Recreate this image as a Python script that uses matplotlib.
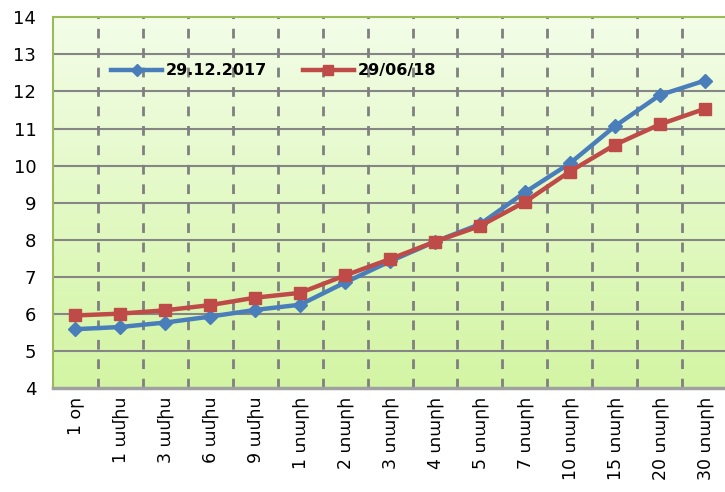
import numpy as np
import matplotlib
matplotlib.use("Agg")
import matplotlib.pyplot as plt
from matplotlib.colors import LinearSegmentedColormap

plt.rcParams['font.family'] = ['DejaVu Sans', 'Noto Sans']

categories = ["1 օր", "1 ամիս", "3 ամիս", "6 ամիս", "9 ամիս", "1 տարի", "2 տարի",
              "3 տարի", "4 տարի", "5 տարի", "7 տարի", "10 տարի", "15 տարի",
              "20 տարի", "30 տարի"]
series_2017 = [5.59, 5.65, 5.77, 5.93, 6.11, 6.25, 6.85, 7.42, 7.95, 8.42, 9.28,
               10.06, 11.06, 11.90, 12.29]
series_2018 = [5.96, 6.01, 6.10, 6.24, 6.44, 6.57, 7.04, 7.48, 7.95, 8.37, 9.02,
               9.84, 10.56, 11.11, 11.53]
label_2017 = "29.12.2017"
label_2018 = "29/06/18"
yticks = list(range(4, 15))

fig = plt.figure(figsize=(7.25, 4.92), dpi=100)
ax = fig.add_axes([0.073, 0.211, 0.93, 0.754])

n = len(categories)
x = np.arange(n)
ax.set_xlim(-0.5, n - 0.5)
ax.set_ylim(4, 14)

# gradient background
cmap = LinearSegmentedColormap.from_list("g", ["#d3f5a3", "#f3fde8"])
grad = np.linspace(0, 1, 256).reshape(-1, 1)
ax.imshow(grad, extent=(-0.5, n - 0.5, 4, 14), origin="lower", aspect="auto",
          cmap=cmap, zorder=0)

# grid
for yv in yticks[1:-1]:
    ax.axhline(yv, color="#868686", lw=1.5, zorder=1)
for xv in np.arange(0.5, n - 0.5, 1.0):
    ax.axvline(xv, color="#808080", lw=2, ls=(0, (3.5, 3.5)), zorder=1)

ax.plot(x, series_2017, color="#4a7ebb", lw=3.2, marker="D", ms=7,
        label=label_2017, zorder=3)
ax.plot(x, series_2018, color="#be4b48", lw=3.2, marker="s", ms=8.5,
        label=label_2018, zorder=4)

ax.set_xticks(x)
ax.set_xticklabels(categories, rotation=90, fontsize=12.5, va="top", ha="center")
ax.set_yticks(yticks)
ax.set_yticklabels([str(v) for v in yticks], fontsize=13)
ax.tick_params(length=0, pad=6)
ax.tick_params(axis="y", pad=12)

for s in ["top", "left"]:
    ax.spines[s].set_color("#9bbb59")
    ax.spines[s].set_linewidth(1.5)
ax.spines["right"].set_visible(False)
ax.spines["bottom"].set_color("#a0a0a0")
ax.spines["bottom"].set_linewidth(2.5)

leg = ax.legend(loc="upper left", bbox_to_anchor=(0.065, 0.915), ncol=2, frameon=False,
                prop={"weight": "bold", "size": 11.5}, handlelength=3.2,
                columnspacing=2.2, handletextpad=0.25, markerscale=0.85)

fig.savefig("out.png", dpi=100)
